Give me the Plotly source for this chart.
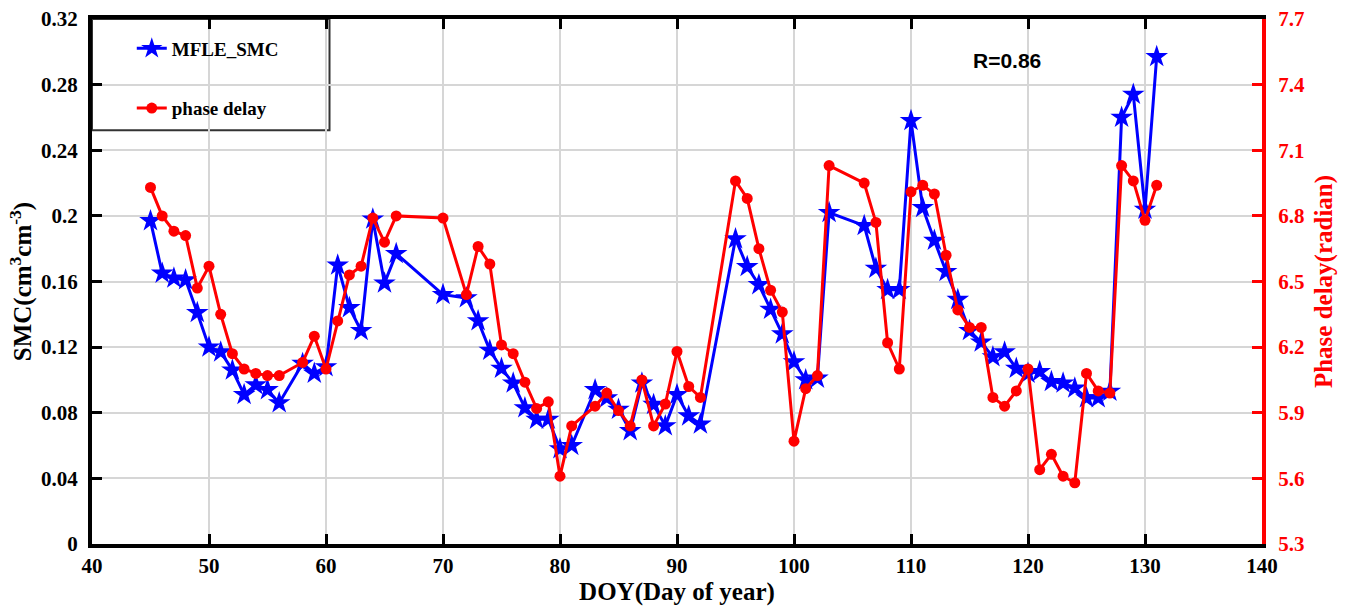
import plotly.graph_objects as go

# Day of year for each observation
doy = [45, 46, 47, 48, 49, 50, 51, 52, 53, 54, 55, 56, 58, 59, 60, 61, 62, 63, 64, 65, 66,
       70, 72, 73, 74, 75, 76, 77, 78, 79, 80, 81, 83, 84, 85, 86, 87, 88, 89, 90, 91, 92,
       95, 96, 97, 98, 99, 100, 101, 102, 103, 106, 107, 108, 109, 110, 111, 112, 113, 114,
       115, 116, 117, 118, 119, 120, 121, 122, 123, 124, 125, 126, 127, 128, 129, 130, 131]

# Soil moisture content (cm3/cm3)
smc = [0.197, 0.165, 0.162, 0.161, 0.141, 0.120, 0.117, 0.106, 0.091, 0.097, 0.094, 0.086,
       0.110, 0.104, 0.108, 0.170, 0.144, 0.130, 0.198, 0.159, 0.177,
       0.152, 0.150, 0.136, 0.118, 0.107, 0.098, 0.083, 0.076, 0.076, 0.058, 0.060,
       0.094, 0.089, 0.082, 0.069, 0.098, 0.085, 0.072, 0.091, 0.078, 0.073,
       0.186, 0.169, 0.158, 0.143, 0.128, 0.111, 0.100, 0.101, 0.202,
       0.194, 0.168, 0.155, 0.155, 0.258, 0.205, 0.185, 0.166, 0.149,
       0.130, 0.123, 0.114, 0.117, 0.107, 0.104, 0.105, 0.099, 0.098, 0.095,
       0.089, 0.089, 0.093, 0.260, 0.274, 0.204, 0.297]

# Phase delay (radian)
phase = [6.93, 6.80, 6.73, 6.71, 6.47, 6.57, 6.35, 6.17, 6.10, 6.08, 6.07, 6.07,
         6.13, 6.25, 6.10, 6.32, 6.53, 6.57, 6.79, 6.68, 6.80,
         6.79, 6.44, 6.66, 6.58, 6.21, 6.17, 6.04, 5.92, 5.95, 5.61, 5.84,
         5.93, 5.99, 5.91, 5.84, 6.05, 5.84, 5.94, 6.18, 6.02, 5.97,
         6.96, 6.88, 6.65, 6.46, 6.36, 5.77, 6.01, 6.07, 7.03,
         6.95, 6.77, 6.22, 6.10, 6.91, 6.94, 6.90, 6.62, 6.37,
         6.29, 6.29, 5.97, 5.93, 6.00, 6.10, 5.64, 5.71, 5.61, 5.58,
         6.08, 6.00, 5.99, 7.03, 6.96, 6.78, 6.94]

x_ticks = [40, 50, 60, 70, 80, 90, 100, 110, 120, 130, 140]
smc_ticks = [0, 0.04, 0.08, 0.12, 0.16, 0.2, 0.24, 0.28, 0.32]
smc_tick_text = ["0", "0.04", "0.08", "0.12", "0.16", "0.2", "0.24", "0.28", "0.32"]
phase_ticks = [5.3, 5.6, 5.9, 6.2, 6.5, 6.8, 7.1, 7.4, 7.7]
phase_tick_text = ["5.3", "5.6", "5.9", "6.2", "6.5", "6.8", "7.1", "7.4", "7.7"]

SERIF = "Liberation Serif"
BLUE = "#0000ff"
RED = "#ff0000"
GRID = "#d6d6d6"

fig = go.Figure()

fig.add_trace(go.Scatter(
    x=doy, y=smc, name="MFLE_SMC", mode="lines+markers",
    line=dict(color=BLUE, width=3),
    marker=dict(symbol="star", size=17, color=BLUE),
    legendgroup="a", yaxis="y",
))
fig.add_trace(go.Scatter(
    x=doy, y=phase, name="phase delay", mode="lines+markers",
    line=dict(color=RED, width=3),
    marker=dict(symbol="circle", size=11, color=RED),
    legendgroup="b", yaxis="y2",
))

# white legend box
fig.add_shape(type="rect", xref="paper", yref="paper",
              x0=0.0, x1=0.203, y0=0.788, y1=1.0,
              fillcolor="white", line=dict(color="#333333", width=2),
              layer="between")

fig.add_annotation(text="<b>R=0.86</b>", xref="paper", yref="paper",
                   x=0.782, y=0.92, xanchor="center", yanchor="middle",
                   showarrow=False,
                   font=dict(family="Liberation Sans", size=21, color="black"))

fig.update_layout(
    width=1349, height=608,
    margin=dict(l=92, r=87, t=19, b=64),
    paper_bgcolor="white", plot_bgcolor="white",
    font=dict(family=SERIF, color="black"),
    showlegend=True,
    legend=dict(x=0.034, y=0.98, xanchor="left", yanchor="top",
                bgcolor="rgba(0,0,0,0)", borderwidth=0,
                tracegroupgap=32, itemwidth=30,
                font=dict(family=SERIF, size=19, color="black", weight="bold")),
    xaxis=dict(
        range=[40, 140], tickvals=x_ticks, automargin=False,
        ticks="inside", ticklen=10, tickwidth=3, tickcolor="black",
        showline=True, linecolor="black", linewidth=4, mirror="ticks",
        showgrid=True, gridcolor=GRID, gridwidth=2, zeroline=False,
        tickfont=dict(family=SERIF, size=21, color="black", weight="bold"),
        title=dict(text="DOY(Day of year)", standoff=4,
                   font=dict(family=SERIF, size=25, color="black", weight="bold")),
    ),
    yaxis=dict(
        range=[0, 0.32], tickvals=smc_ticks, ticktext=smc_tick_text, automargin=False,
        ticks="inside", ticklen=10, tickwidth=3, tickcolor="black",
        showline=True, linecolor="black", linewidth=4,
        showgrid=True, gridcolor=GRID, gridwidth=2, zeroline=False,
        ticklabelstandoff=6,
        tickfont=dict(family=SERIF, size=21, color="black", weight="bold"),
        title=dict(text="SMC(cm<sup>3</sup>cm<sup>-3</sup>)", standoff=3,
                   font=dict(family=SERIF, size=25, color="black", weight="bold")),
    ),
    yaxis2=dict(
        range=[5.3, 7.7], tickvals=phase_ticks, ticktext=phase_tick_text, automargin=False,
        overlaying="y", side="right",
        ticks="inside", ticklen=10, tickwidth=3, tickcolor=RED,
        showline=True, linecolor=RED, linewidth=4,
        showgrid=False, zeroline=False,
        ticklabelstandoff=8,
        tickfont=dict(family=SERIF, size=21, color=RED, weight="bold"),
        title=dict(text="Phase delay(radian)", standoff=12,
                   font=dict(family=SERIF, size=25, color=RED, weight="bold")),
    ),
)

fig.write_html("out.html")
